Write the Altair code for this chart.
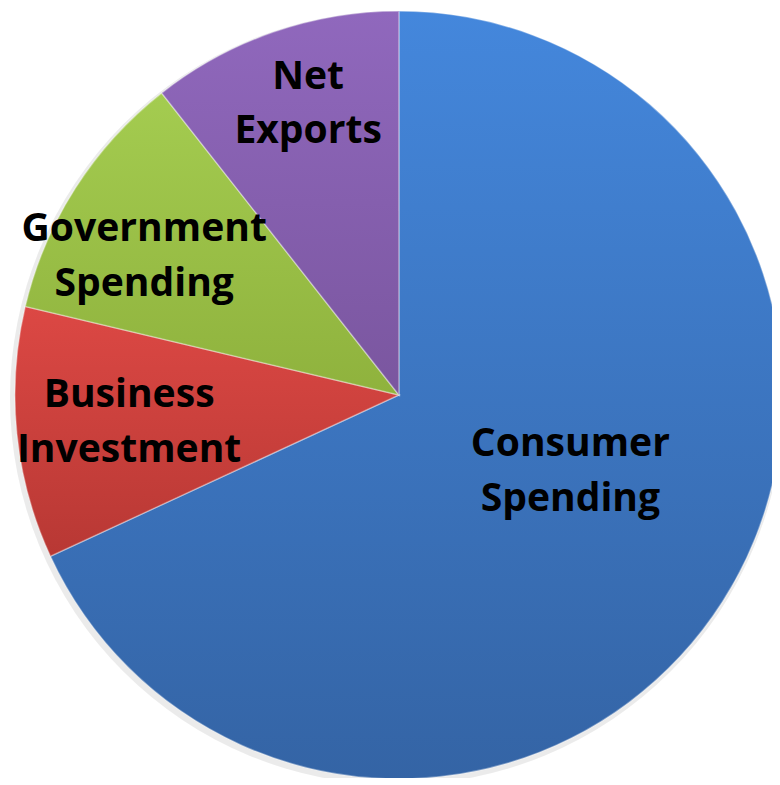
import math
import altair as alt
import pandas as pd

# ---- data ----
categories = ["Consumer Spending", "Business Investment", "Government Spending", "Net Exports"]
shares = [68.1, 10.6, 10.7, 10.6]
labels = ["Consumer\nSpending", "Business\nInvestment", "Government\nSpending", "Net\nExports"]

df = pd.DataFrame({
    "category": categories,
    "share": shares,
    "label": labels,
    "order": list(range(len(categories))),
})

W, H = 772, 770
CX, CY = 395, 387
R = 388

theta_scale = alt.Scale(domain=[0, 100], range=[0, 2 * math.pi])

base = (
    alt.Chart(df)
    .transform_window(end="sum(share)", sort=[alt.SortField("order")], frame=[None, 0])
    .transform_calculate(start="datum.end - datum.share")
    .transform_calculate(mid="(datum.start + datum.end) / 2")
)

def grad(top, bottom):
    return alt.LinearGradient(
        gradient="linear", x1=0, x2=0, y1=0, y2=1,
        stops=[alt.GradientStop(offset=0, color=top), alt.GradientStop(offset=1, color=bottom)],
    )

fills = {
    "Consumer Spending": grad("#4487dc", "#3464a5"),
    "Business Investment": grad("#dc4844", "#b83834"),
    "Government Spending": grad("#a4cc50", "#8fb23d"),
    "Net Exports": grad("#9068bd", "#7a569f"),
}

# soft shadow behind the pie
shadow = base.transform_aggregate(total="sum(share)").transform_calculate(zero="0").mark_arc(
    outerRadius=R + 3, fill="#000000", opacity=0.08
).encode(
    theta=alt.Theta("zero:Q", scale=theta_scale, stack=None),
    theta2="total:Q",
    x=alt.value(CX - 2), y=alt.value(CY + 3),
)

layers = [shadow]
for cat in categories:
    layers.append(
        base.transform_filter(alt.datum.category == cat)
        .mark_arc(outerRadius=R, fill=fills[cat], stroke="#ffffff", strokeOpacity=0.35, strokeWidth=1.5)
        .encode(
            theta=alt.Theta("start:Q", scale=theta_scale, stack=None),
            theta2="end:Q",
            x=alt.value(CX), y=alt.value(CY),
        )
    )

label_place = {
    "Net Exports": (305, 8, -33),
    "Government Spending": (290, -13, -11),
    "Business Investment": (272, -2, -27),
    "Consumer Spending": (189, 14, -52),
}
for cat, (rad, dx, dy) in label_place.items():
    layers.append(
        base.transform_filter(alt.datum.category == cat)
        .mark_text(
            radius=rad, dx=dx, dy=dy, font="Open Sans", fontWeight="bold", fontSize=39.5,
            lineBreak="\n", lineHeight=55, align="center", baseline="middle", color="#000000",
        )
        .encode(
            theta=alt.Theta("mid:Q", scale=theta_scale, stack=None),
            text="label:N",
            x=alt.value(CX), y=alt.value(CY),
        )
    )

chart = (
    alt.layer(*layers)
    .properties(width=W, height=H, autosize=alt.AutoSizeParams(type="none"), padding=0, background="#ffffff")
    .configure_view(stroke=None)
)

chart.save("out.html", embed_options={"renderer": "svg", "actions": False})
